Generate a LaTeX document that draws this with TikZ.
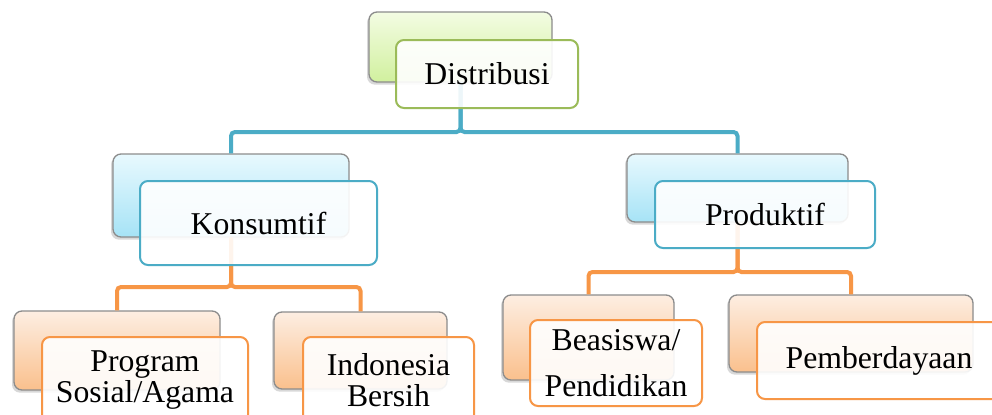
\documentclass[tikz,border=0pt]{standalone}
\usepackage{fontspec}
\setmainfont{Liberation Serif}
\usetikzlibrary{shadows}
\definecolor{grnline}{HTML}{9BBB59}
\definecolor{grntop}{HTML}{F3FCE3}
\definecolor{grnbot}{HTML}{D1F09E}
\definecolor{bluline}{HTML}{4BACC6}
\definecolor{blutop}{HTML}{E8F9FE}
\definecolor{blubot}{HTML}{A6E3F6}
\definecolor{orgline}{HTML}{F79646}
\definecolor{orgtop}{HTML}{FDEEE2}
\definecolor{orgbot}{HTML}{FAC08D}
\tikzset{
  font={\fontsize{23.8pt}{23pt}\selectfont},
  backbox/.style={draw=black!45, line width=1pt, rounded corners=6pt,
    drop shadow={shadow xshift=-1.5pt, shadow yshift=-2pt, opacity=0.3}},
  frontbox/.style={fill=white, fill opacity=0.9, text opacity=1,
    line width=1.5pt, rounded corners=6pt, inner sep=0pt, align=center},
  grnback/.style={backbox, top color=grntop, bottom color=grnbot},
  bluback/.style={backbox, top color=blutop, bottom color=blubot},
  orgback/.style={backbox, top color=orgtop, bottom color=orgbot},
  grnfront/.style={frontbox, draw=grnline},
  blufront/.style={frontbox, draw=bluline},
  orgfront/.style={frontbox, draw=orgline},
  link/.style={line width=3pt, rounded corners=3pt}}

\begin{document}
\begin{tikzpicture}[x=0.75pt,y=-0.75pt]
\clip (0,0) rectangle (992,414);
\fill [white] (0,0) rectangle (992,414);
\node [grnback, minimum width=137.25pt, minimum height=52.5pt] (distB) at (460.5,47) {};
\node [bluback, minimum width=177pt, minimum height=62.25pt] (konsB) at (231,195.5) {};
\node [bluback, minimum width=165.75pt, minimum height=51pt] (prodB) at (737.5,188) {};
\node [orgback, minimum width=154.5pt, minimum height=59.25pt] (progB) at (117,350.5) {};
\node [orgback, minimum width=129.75pt, minimum height=57.75pt] (indoB) at (360.5,350.5) {};
\node [orgback, minimum width=128.25pt, minimum height=63.75pt] (beasB) at (588.5,337.5) {};
\node [orgback, minimum width=183pt, minimum height=57.75pt] (pembB) at (851,333.5) {};
\draw [link, bluline] (distB.south) -- (distB.south |- 0,132) -| (konsB.north);
\draw [link, bluline] (distB.south) -- (distB.south |- 0,132) -| (prodB.north);
\draw [link, orgline] (konsB.south) -- (konsB.south |- 0,287) -| (progB.north);
\draw [link, orgline] (konsB.south) -- (konsB.south |- 0,287) -| (indoB.north);
\draw [link, orgline] (prodB.south) -- (prodB.south |- 0,272) -| (beasB.north);
\draw [link, orgline] (prodB.south) -- (prodB.south |- 0,272) -| (pembB.north);
\node [grnfront, minimum width=136.5pt, minimum height=51pt] (dist) at (487,74) {Distribusi};
\node [blufront, minimum width=177.75pt, minimum height=63pt] (kons) at (258.5,223) {Konsumtif};
\node [blufront, minimum width=165pt, minimum height=50.25pt] (prod) at (765,214.5) {Produktif};
\node [orgfront, minimum width=154.5pt, minimum height=64.5pt] (prog) at (145,380) {Program\\Sosial/Agama};
\node [orgfront, minimum width=128.25pt, minimum height=64.5pt] (indo) at (388.5,380) {Indonesia\\Bersih};
\node [orgfront, minimum width=129pt, minimum height=64.5pt] (beas) at (616,363) {Beasiswa/\\[11pt]Pendidikan};
\node [orgfront, minimum width=183pt, minimum height=57.75pt] (pemb) at (879,360.5) {Pemberdayaan};
\end{tikzpicture}
\end{document}
